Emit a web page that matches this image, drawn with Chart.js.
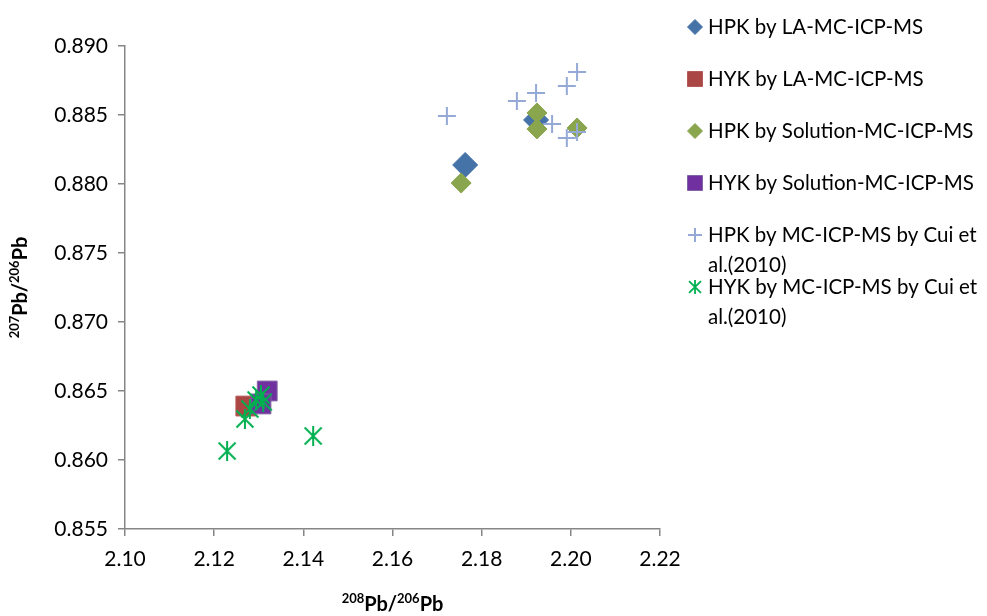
<!DOCTYPE html>
<html>
<head>
<meta charset="utf-8">
<script src="https://cdn.jsdelivr.net/npm/chart.js@4.4.1/dist/chart.umd.min.js"></script>
<style>
  html, body { margin: 0; background: #fff; }
  #wrap { position: relative; width: 987px; height: 616px; }
</style>
</head>
<body>
<div id="wrap"><canvas id="pbChart"></canvas></div>
<script>
// Pb isotope ratios: 208Pb/206Pb (x) vs 207Pb/206Pb (y)
const xTicks = [2.10, 2.12, 2.14, 2.16, 2.18, 2.20, 2.22];
const yTicks = [0.855, 0.860, 0.865, 0.870, 0.875, 0.880, 0.885, 0.890];

const seriesNames = [
  'HPK by LA-MC-ICP-MS',
  'HYK by LA-MC-ICP-MS',
  'HPK by Solution-MC-ICP-MS',
  'HYK by Solution-MC-ICP-MS',
  'HPK by MC-ICP-MS by Cui et\nal.(2010)',
  'HYK by MC-ICP-MS by Cui et\nal.(2010)'
];

const hpkLaX = [2.1763, 2.1922];
const hpkLaY = [0.88138, 0.88464];
const hykLaX = [2.1271];
const hykLaY = [0.86391];
const hpkSolX = [2.1754, 2.1924, 2.1924, 2.2014];
const hpkSolY = [0.88007, 0.88515, 0.88399, 0.88406];
const hykSolX = [2.1319, 2.1305];
const hykSolY = [0.86500, 0.86406];
const hpkCuiX = [2.1722, 2.1879, 2.1922, 2.1991, 2.2014, 2.1958, 2.1991, 2.2014];
const hpkCuiY = [0.88493, 0.88601, 0.88659, 0.88710, 0.88812, 0.88435, 0.88333, 0.88377];
const hykCuiX = [2.1229, 2.1422, 2.1269, 2.1280, 2.1294, 2.1305, 2.1310];
const hykCuiY = [0.86065, 0.86174, 0.86297, 0.86370, 0.86435, 0.86471, 0.86420];

const FONT = 'Lato, "Open Sans", sans-serif';
const AXIS = '#868686';

// asterisk marker: vertical stroke plus an X
function starCanvas(r, color, lw) {
  const s = Math.ceil(2 * r + lw + 2);
  const c = document.createElement('canvas');
  c.width = c.height = s;
  const g = c.getContext('2d');
  const m = s / 2, d = r * 0.85;
  g.strokeStyle = color; g.lineWidth = lw; g.lineCap = 'butt';
  g.beginPath();
  g.moveTo(m, m - r); g.lineTo(m, m + r);
  g.moveTo(m - d, m - d); g.lineTo(m + d, m + d);
  g.moveTo(m - d, m + d); g.lineTo(m + d, m - d);
  g.stroke();
  return c;
}

const pts = (xs, ys) => xs.map((x, i) => ({ x, y: ys[i] }));

const styles = [
  { fill: '#4572A7', line: '#4572A7', shape: 'rectRot', r: 12.5, lr: 7.5, bw: 1 },
  { fill: '#AA4643', line: '#B65A57', shape: 'rect', r: 14, lr: 10.6, bw: 1 },
  { fill: '#89A54E', line: '#89A54E', shape: 'rectRot', r: 10, lr: 7.5, bw: 1 },
  { fill: '#7030A0', line: '#8064A2', shape: 'rect', r: 14, lr: 10.6, bw: 1 },
  { fill: '#95A9D6', line: '#95A9D6', shape: 'cross', r: 9, lr: 7, bw: 2 },
  { fill: '#00B050', line: '#00B050', shape: starCanvas(10, '#00B050', 2), r: 10, lr: 7, bw: 2,
    legendShape: starCanvas(7, '#00B050', 1.8) }
];

const seriesData = [
  pts(hpkLaX, hpkLaY), pts(hykLaX, hykLaY),
  pts(hpkSolX, hpkSolY), pts(hykSolX, hykSolY),
  pts(hpkCuiX, hpkCuiY), pts(hykCuiX, hykCuiY)
];

const datasets = seriesNames.map((name, i) => ({
  label: name.replace('\n', ' '),
  data: seriesData[i],
  pointStyle: styles[i].shape,
  pointRadius: styles[i].r,
  backgroundColor: styles[i].fill,
  borderColor: styles[i].line,
  borderWidth: styles[i].bw,
  order: seriesNames.length - i   // later series sit on top
}));

function drawRich(ctx, parts, cx, cy) {
  let w = 0;
  parts.forEach(p => { ctx.font = p.font; w += ctx.measureText(p.t).width; });
  let x = cx - w / 2;
  ctx.textBaseline = 'alphabetic';
  ctx.textAlign = 'left';
  parts.forEach(p => {
    ctx.font = p.font;
    ctx.fillText(p.t, x, cy + p.dy);
    x += ctx.measureText(p.t).width;
  });
}

const big = 'bold 20px ' + FONT, sup = 'bold 13px ' + FONT;
const ratioTitle = (a, b) => [
  { t: a, font: sup, dy: -8 }, { t: 'Pb/', font: big, dy: 0 },
  { t: b, font: sup, dy: -8 }, { t: 'Pb', font: big, dy: 0 }
];

const decorations = {
  id: 'decorations',
  afterDraw(chart) {
    const ctx = chart.ctx;
    const area = chart.chartArea;
    ctx.save();
    ctx.fillStyle = '#000';
    // axis titles
    drawRich(ctx, ratioTitle('208', '206'), (area.left + area.right) / 2, 611);
    ctx.save();
    ctx.translate(27, (area.top + area.bottom) / 2);
    ctx.rotate(-Math.PI / 2);
    drawRich(ctx, ratioTitle('207', '206'), 0, 0);
    ctx.restore();

    // legend
    const mx = 695, tx = 708;
    ctx.font = '20.5px ' + FONT;
    ctx.textBaseline = 'middle';
    seriesNames.forEach((name, i) => {
      const y = 27 + i * 52;
      const s = styles[i];
      ctx.fillStyle = s.fill;
      ctx.strokeStyle = s.line;
      ctx.lineWidth = s.bw;
      Chart.helpers.drawPoint(ctx, { pointStyle: s.legendShape || s.shape, radius: s.lr, rotation: 0, borderWidth: s.bw }, mx, y);
      ctx.fillStyle = '#000';
      name.split('\n').forEach((line, k) => ctx.fillText(line, tx, y + k * 30));
    });
    ctx.restore();
  }
};

const fixedTicks = list => scale => { scale.ticks = list.map(v => ({ value: v })); };

new Chart(document.getElementById('pbChart'), {
  type: 'scatter',
  data: { datasets },
  options: {
    responsive: true,
    maintainAspectRatio: false,
    animation: false,
    events: [],
    layout: { padding: { left: 0, right: 327, top: 46, bottom: 0 } },
    plugins: { legend: { display: false }, tooltip: { enabled: false } },
    scales: {
      x: {
        type: 'linear', position: 'bottom', min: 2.10, max: 2.22,
        afterBuildTicks: fixedTicks(xTicks),
        afterFit(s) { s.height = 87; s.paddingLeft = 0; s.paddingRight = 0; },
        border: { color: AXIS, width: 1.5 },
        grid: { drawOnChartArea: false, drawTicks: true, tickLength: 7, color: AXIS, lineWidth: 1.5 },
        ticks: { padding: 11, color: '#000', font: { family: FONT, size: 21 }, maxRotation: 0,
                 callback: v => v.toFixed(2) }
      },
      y: {
        type: 'linear', min: 0.855, max: 0.890,
        afterBuildTicks: fixedTicks(yTicks),
        afterFit(s) { s.width = 125; s.paddingTop = 0; s.paddingBottom = 0; },
        border: { color: AXIS, width: 1.5 },
        grid: { drawOnChartArea: false, drawTicks: true, tickLength: 7, color: AXIS, lineWidth: 1.5 },
        ticks: { padding: 10, color: '#000', font: { family: FONT, size: 21 },
                 callback: v => v.toFixed(3) }
      }
    }
  },
  plugins: [decorations]
});
</script>
</body>
</html>
